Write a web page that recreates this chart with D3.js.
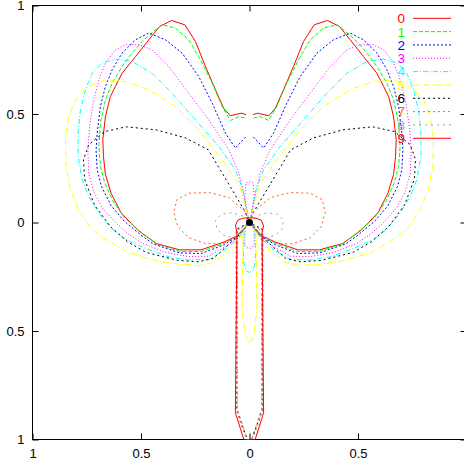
<!DOCTYPE html>
<html>
<head>
<meta charset="utf-8">
<script src="https://cdn.jsdelivr.net/npm/d3@7"></script>
<style>
  html, body { margin: 0; padding: 0; background: #fff; }
  svg { display: block; }
</style>
</head>
<body>
<svg id="chart" width="464" height="462"></svg>
<script>
// Axis ticks (labels show magnitudes only)
const tickValues = [-1, -0.5, 0, 0.5, 1];
const tickLabels = ["1", "0.5", "0", "0.5", "1"];

// Legend entries
const seriesNames = ["0", "1", "2", "3", "4", "5", "6", "7", "8", "9"];

// Each pattern is symmetric about the vertical axis: the points below trace
// the right half (x >= 0) from the top down; the left half is its mirror.
const pattern0 = [[0.016,0.497],[0.037,0.504],[0.088,0.492],[0.118,0.524],[0.157,0.612],[0.203,0.719],
  [0.249,0.834],[0.298,0.911],[0.359,0.931],[0.415,0.903],[0.464,0.842],[0.525,0.765],[0.587,0.688],
  [0.618,0.627],[0.641,0.581],[0.664,0.488],[0.676,0.381],[0.673,0.304],[0.664,0.222],[0.638,0.135],
  [0.592,0.045],[0.515,-0.035],[0.43,-0.097],[0.322,-0.126],[0.223,-0.126],[0.118,-0.09],[0.058,-0.062],[0,0]];

const pattern1 = [[0.018,0.481],[0.049,0.488],[0.088,0.470],[0.126,0.535],[0.172,0.642],[0.226,0.750],
  [0.280,0.842],[0.341,0.896],[0.403,0.911],[0.433,0.888],[0.495,0.834],[0.548,0.773],[0.587,0.719],
  [0.633,0.642],[0.664,0.565],[0.687,0.458],[0.694,0.350],[0.687,0.258],[0.667,0.182],[0.630,0.100],
  [0.576,0.022],[0.500,-0.045],[0.425,-0.100],[0.322,-0.133],[0.223,-0.134],[0.118,-0.096],[0.058,-0.064],[0,0]];

const pattern2 = [[0.018,0.394],[0.065,0.343],[0.111,0.412],[0.172,0.550],[0.234,0.673],[0.311,0.781],
  [0.387,0.842],[0.464,0.873],[0.525,0.842],[0.587,0.781],[0.633,0.704],[0.664,0.627],[0.687,0.535],
  [0.702,0.412],[0.707,0.335],[0.702,0.243],[0.682,0.166],[0.638,0.078],[0.576,0.005],[0.500,-0.058],
  [0.445,-0.098],[0.322,-0.140],[0.223,-0.143],[0.116,-0.102],[0.058,-0.066],[0,0]];

const pattern3 = [[0,0.19],[0.016,0.183],[0.022,0.12],[0.014,0.04],[0,0],[0.02,0.1],[0.049,0.228],
  [0.095,0.335],[0.188,0.474],[0.280,0.596],[0.372,0.719],[0.449,0.796],[0.510,0.819],[0.571,0.819],
  [0.618,0.796],[0.664,0.735],[0.694,0.658],[0.718,0.565],[0.737,0.442],[0.745,0.335],[0.741,0.228],
  [0.718,0.143],[0.679,0.068],[0.618,0.000],[0.556,-0.055],[0.495,-0.095],[0.387,-0.138],[0.280,-0.157],
  [0.188,-0.155],[0.105,-0.108],[0.05,-0.066],[0,0],[0.02,-0.012],[0.022,-0.1],[0.012,-0.116],[0,-0.12]];

const pattern4 = [[0,0],[0.012,0.06],[0.03,0.15],[0.065,0.243],[0.141,0.350],[0.249,0.473],[0.357,0.596],
  [0.449,0.688],[0.541,0.742],[0.618,0.753],[0.679,0.735],[0.725,0.688],[0.756,0.612],[0.779,0.519],
  [0.790,0.412],[0.790,0.304],[0.771,0.197],[0.741,0.120],[0.694,0.043],[0.633,-0.030],[0.571,-0.078],
  [0.479,-0.120],[0.372,-0.158],[0.280,-0.173],[0.188,-0.170],[0.109,-0.124],[0.05,-0.07],[0,0],
  [0.025,-0.03],[0.028,-0.18],[0.015,-0.222],[0,-0.23]];

const pattern5 = [[0,0],[0.015,0.06],[0.045,0.17],[0.126,0.289],[0.234,0.427],[0.341,0.535],[0.464,0.612],
  [0.571,0.650],[0.664,0.658],[0.741,0.627],[0.802,0.565],[0.833,0.488],[0.848,0.381],[0.845,0.258],
  [0.825,0.151],[0.787,0.059],[0.725,-0.034],[0.664,-0.078],[0.556,-0.140],[0.418,-0.180],[0.326,-0.192],
  [0.234,-0.198],[0.165,-0.184],[0.095,-0.128],[0.045,-0.07],[0,0],[0.03,-0.03],[0.034,-0.4],
  [0.02,-0.52],[0,-0.556]];

const pattern6 = [[0,0],[0.02,0.05],[0.135,0.243],[0.19,0.335],[0.295,0.39],[0.43,0.427],[0.568,0.441],
  [0.668,0.419],[0.741,0.358],[0.765,0.29],[0.76,0.2],[0.714,0.08],[0.64,-0.02],[0.56,-0.09],
  [0.476,-0.138],[0.33,-0.175],[0.234,-0.181],[0.165,-0.165],[0.095,-0.1],[0.045,-0.055],[0,0],
  [0.058,-0.03],[0.058,-0.86],[0.035,-0.93],[0.01,-1],[0,-1]];

const pattern7 = [[0,0],[0.02,0.05],[0.095,0.115],[0.188,0.138],[0.28,0.135],[0.335,0.105],[0.349,0.045],
  [0.33,-0.02],[0.28,-0.07],[0.20,-0.098],[0.13,-0.098],[0.06,-0.065],[0,0],[0.062,-0.04],[0.062,-0.86],
  [0.04,-0.93],[0.012,-1],[0,-1]];

const pattern8 = [[0,0],[0.03,0.03],[0.08,0.045],[0.13,0.038],[0.157,0.01],[0.15,-0.03],[0.118,-0.06],
  [0.07,-0.07],[0.035,-0.045],[0,0],[0.056,-0.04],[0.056,-0.86],[0.033,-0.93],[0.01,-1],[0,-1]];

const pattern9 = [[0,0.022],[0.03,0.02],[0.055,0.01],[0.065,-0.015],[0.058,-0.045],[0.065,-0.877],
  [0.026,-1],[0,-1]];

const patterns = [pattern0, pattern1, pattern2, pattern3, pattern4, pattern5, pattern6, pattern7, pattern8, pattern9];

// Marker at the pole
const poleMark = [[0, 0]];

// Line styles (gnuplot-like line types)
const lineColors = ["#ff0000", "#00ff00", "#0000ff", "#ff00ff", "#00ffff", "#ffff00", "#000000", "#ff5a2a", "#a0a0a0", "#ff0000"];
const lineDashes = [null, "4,2", "2,2", "1,2", "5,2,1,2", "6,2,1,2", "2,3", "2,3", "2,4", null];

const svg = d3.select("#chart");
const font = "'Liberation Sans', Arial, Helvetica, sans-serif";

const x = d3.scaleLinear().domain([-1, 1]).range([32.5, 466.5]);
const y = d3.scaleLinear().domain([-1, 1]).range([439.5, 5.5]);

svg.append("defs").append("clipPath").attr("id", "plotClip")
  .append("rect")
  .attr("x", x(-1)).attr("y", y(1))
  .attr("width", x(1) - x(-1)).attr("height", y(-1) - y(1));

// Axes with inward ticks on all four sides
function styleAxis(g) {
  g.select(".domain").remove();
  g.selectAll(".tick line").attr("stroke", "#000");
  g.selectAll("text").attr("fill", "#000").attr("font-family", font).attr("font-size", 13);
}

svg.append("g").attr("transform", `translate(0,${y(-1)})`)
  .call(d3.axisBottom(x).tickValues(tickValues).tickFormat((d, i) => tickLabels[i]).tickSize(-6).tickPadding(9))
  .call(styleAxis);
svg.append("g").attr("transform", `translate(0,${y(1)})`)
  .call(d3.axisTop(x).tickValues(tickValues).tickFormat("").tickSize(-6))
  .call(styleAxis);
svg.append("g").attr("transform", `translate(${x(-1)},0)`)
  .call(d3.axisLeft(y).tickValues(tickValues).tickFormat((d, i) => tickLabels[i]).tickSize(-6).tickPadding(8))
  .call(styleAxis);
svg.append("g").attr("transform", `translate(${x(1)},0)`)
  .call(d3.axisRight(y).tickValues(tickValues).tickFormat("").tickSize(-6))
  .call(styleAxis);

// Frame
svg.append("rect")
  .attr("x", x(-1)).attr("y", y(1))
  .attr("width", x(1) - x(-1)).attr("height", y(-1) - y(1))
  .attr("fill", "none").attr("stroke", "#000").attr("stroke-width", 1);

// Mirror a right-half trace into the full symmetric curve
const mirror = half => half.concat(half.slice().reverse().map(([a, b]) => [-a, b]));

const line = d3.line().x(d => x(d[0])).y(d => y(d[1]));

const plot = svg.append("g").attr("clip-path", "url(#plotClip)");
plot.selectAll("path.pattern")
  .data(patterns)
  .join("path")
  .attr("class", "pattern")
  .attr("d", d => line(mirror(d)))
  .attr("fill", "none")
  .attr("stroke", (d, i) => lineColors[i])
  .attr("stroke-width", 1)
  .attr("stroke-dasharray", (d, i) => lineDashes[i]);

plot.selectAll("circle.pole")
  .data(poleMark)
  .join("circle")
  .attr("class", "pole")
  .attr("cx", d => x(d[0])).attr("cy", d => y(d[1]))
  .attr("r", 3.5).attr("fill", "#000");

// Legend: coloured labels with line samples
const legend = svg.append("g");
const rows = legend.selectAll("g").data(seriesNames).join("g")
  .attr("transform", (d, i) => `translate(0,${18.3 + i * 13.33})`);
rows.append("text")
  .attr("x", 405).attr("y", 0).attr("dy", "0.36em")
  .attr("text-anchor", "end")
  .attr("font-family", font).attr("font-size", 13.5)
  .attr("fill", (d, i) => lineColors[i])
  .text(d => d);
rows.append("line")
  .attr("x1", 413).attr("x2", 451).attr("y1", 0).attr("y2", 0)
  .attr("stroke", (d, i) => lineColors[i])
  .attr("stroke-width", 1)
  .attr("stroke-dasharray", (d, i) => lineDashes[i]);
</script>
</body>
</html>
